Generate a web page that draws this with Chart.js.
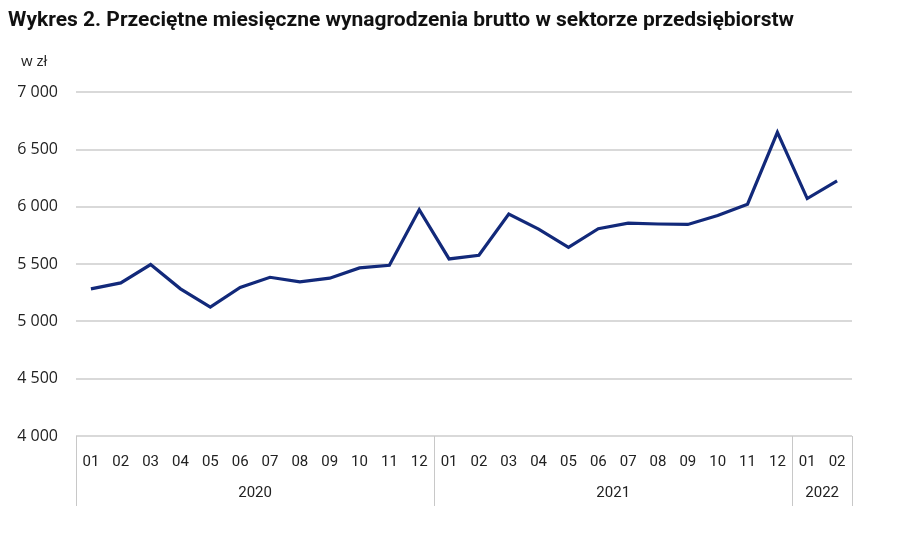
<!DOCTYPE html>
<html>
<head>
<meta charset="utf-8">
<script src="https://cdn.jsdelivr.net/npm/chart.js@4.4.1/dist/chart.umd.min.js"></script>
<style>
  html, body { margin: 0; padding: 0; background: #fff; }
  #wrap { width: 904px; height: 535px; }
</style>
</head>
<body>
<div id="wrap"><canvas id="lineChart" width="904" height="535"></canvas></div>
<script>
// Dane
const months = ['01','02','03','04','05','06','07','08','09','10','11','12',
                '01','02','03','04','05','06','07','08','09','10','11','12',
                '01','02'];
const years = ['2020', '2021', '2022'];
const yearSizes = [12, 12, 2];
const wages = [5284, 5336, 5496, 5284, 5124, 5296, 5385, 5345, 5377, 5467, 5490, 5974,
               5545, 5577, 5936, 5806, 5646, 5809, 5858, 5850, 5846, 5924, 6023, 6650,
               6072, 6226];
const yTicks = [4000, 4500, 5000, 5500, 6000, 6500, 7000];

const textColor = '#222';
const fontX = "Roboto, 'Liberation Sans', sans-serif";

// Lata pod osią + pionowe separatory
const yearGroups = {
  id: 'yearGroups',
  afterDraw(chart) {
    const ctx = chart.ctx;
    const x = chart.scales.x;
    const step = x.getPixelForValue(1) - x.getPixelForValue(0);
    const top = chart.chartArea.bottom;
    const bottom = x.bottom;
    ctx.save();
    ctx.strokeStyle = '#c8c8c8';
    ctx.lineWidth = 1;
    let start = 0;
    const edges = [x.getPixelForValue(0) - step / 2];
    years.forEach((yr, i) => {
      const end = start + yearSizes[i] - 1;
      const left = x.getPixelForValue(start) - step / 2;
      const right = x.getPixelForValue(end) + step / 2;
      edges.push(right);
      ctx.fillStyle = textColor;
      ctx.font = '15px ' + fontX;
      ctx.textAlign = 'center';
      ctx.textBaseline = 'middle';
      ctx.fillText(yr, (left + right) / 2, top + 57);
      start = end + 1;
    });
    edges.forEach(e => {
      const px = Math.round(e) + 0.5;
      ctx.beginPath();
      ctx.moveTo(px, top);
      ctx.lineTo(px, bottom);
      ctx.stroke();
    });
    // jednostka
    ctx.fillStyle = textColor;
    ctx.font = '15px "Open Sans", sans-serif';
    ctx.textAlign = 'left';
    ctx.textBaseline = 'middle';
    ctx.fillText('w zł', 21, chart.chartArea.top - 30);
    ctx.restore();
  }
};

const ctxLine = document.getElementById('lineChart').getContext('2d');
const lineChart = new Chart(ctxLine, {
  type: 'line',
  data: {
    labels: months,
    datasets: [{
      label: 'Przeciętne wynagrodzenie',
      data: wages,
      borderColor: '#12297a',
      borderWidth: 3.2,
      pointRadius: 0,
      tension: 0,
      fill: false
    }]
  },
  options: {
    responsive: false,
    animation: false,
    layout: { padding: { left: 8, right: 52, top: 8, bottom: 29 } },
    plugins: {
      legend: { display: false },
      tooltip: { enabled: false },
      title: {
        display: true,
        text: 'Wykres 2. Przeciętne miesięczne wynagrodzenia brutto w sektorze przedsiębiorstw',
        align: 'start',
        color: '#111',
        font: { family: "Roboto, sans-serif", size: 21, weight: 'bold' },
        padding: { top: 0, bottom: 59 }
      }
    },
    scales: {
      x: {
        offset: true,
        grid: { display: false },
        border: { display: false },
        ticks: {
          color: textColor,
          font: { family: fontX, size: 15 },
          padding: 9,
          maxRotation: 0,
          autoSkip: false
        },
        afterFit(scale) { scale.height = 70; }
      },
      y: {
        min: 4000,
        max: 7000,
        afterBuildTicks(scale) { scale.ticks = yTicks.map(v => ({ value: v })); },
        grid: { color: '#d9d9d9', lineWidth: 2, drawTicks: false },
        border: { display: false },
        ticks: {
          color: textColor,
          font: { family: "'Open Sans', sans-serif", size: 16 },
          padding: 18,
          callback: v => String(v).replace(/\B(?=(\d{3})+(?!\d))/g, ' ')
        },
        afterFit(scale) { scale.width = 68; }
      }
    }
  },
  plugins: [yearGroups]
});
</script>
</body>
</html>
